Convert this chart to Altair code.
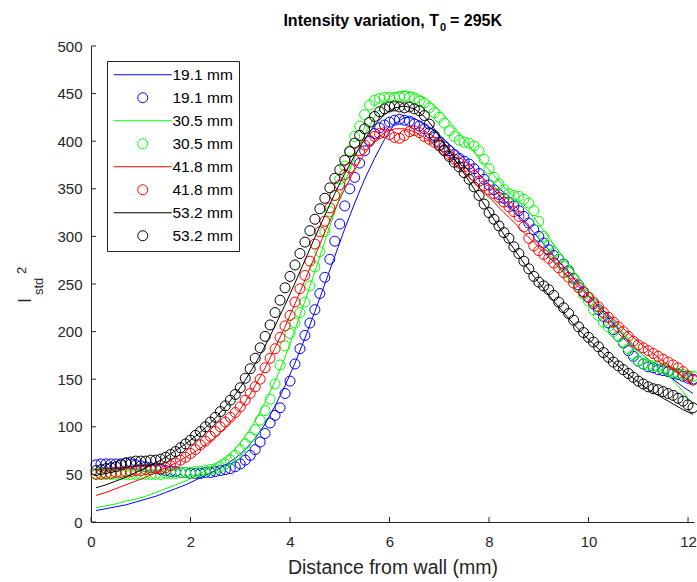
import altair as alt
import pandas as pd

# ---------------- data ----------------
series_labels = ["19.1 mm", "30.5 mm", "41.8 mm", "53.2 mm"]
series_colors = ["#0000ff", "#00ff00", "#ff0000", "#000000"]

x_data = [0.1, 0.2, 0.3, 0.4, 0.5, 0.6, 0.7, 0.8, 0.9, 1.0,
          1.1, 1.2, 1.3, 1.4, 1.5, 1.6, 1.7, 1.8, 1.9, 2.0,
          2.1, 2.2, 2.3, 2.4, 2.5, 2.6, 2.7, 2.8, 2.9, 3.0,
          3.1, 3.2, 3.3, 3.4, 3.5, 3.6, 3.7, 3.8, 3.9, 4.0,
          4.1, 4.2, 4.3, 4.4, 4.5, 4.6, 4.7, 4.8, 4.9, 5.0,
          5.1, 5.2, 5.3, 5.4, 5.5, 5.6, 5.7, 5.8, 5.9, 6.0,
          6.1, 6.2, 6.3, 6.4, 6.5, 6.6, 6.7, 6.8, 6.9, 7.0,
          7.1, 7.2, 7.3, 7.4, 7.5, 7.6, 7.7, 7.8, 7.9, 8.0,
          8.1, 8.2, 8.3, 8.4, 8.5, 8.6, 8.7, 8.8, 8.9, 9.0,
          9.1, 9.2, 9.3, 9.4, 9.5, 9.6, 9.7, 9.8, 9.9, 10.0,
          10.1, 10.2, 10.3, 10.4, 10.5, 10.6, 10.7, 10.8, 10.9, 11.0,
          11.1, 11.2, 11.3, 11.4, 11.5, 11.6, 11.7, 11.8, 11.9, 12.0, 12.1]

x_fit = [0.1, 0.3, 0.5, 0.7, 0.9, 1.1, 1.3, 1.5, 1.7, 1.9,
         2.1, 2.3, 2.5, 2.7, 2.9, 3.1, 3.3, 3.5, 3.7, 3.9,
         4.1, 4.3, 4.5, 4.7, 4.9, 5.1, 5.3, 5.5, 5.7, 5.9,
         6.1, 6.3, 6.5, 6.7, 6.9, 7.1, 7.3, 7.5, 7.7, 7.9,
         8.1, 8.3, 8.5, 8.7, 8.9, 9.1, 9.3, 9.5, 9.7, 9.9,
         10.1, 10.3, 10.5, 10.7, 10.9, 11.1, 11.3, 11.5, 11.7, 11.9, 12.1]

data_191 = [60, 61, 61, 61, 61, 61, 62, 61, 60, 59,
            58, 57, 56, 55, 54, 53, 53, 52, 52, 51,
            51, 51, 52, 52, 53, 54, 55, 56, 58, 61,
            65, 70, 76, 84, 93, 104, 112, 120, 135, 148,
            166, 182, 196, 209, 223, 240, 257, 276, 295, 313,
            332, 350, 362, 377, 390, 400, 408, 414, 417, 420,
            422, 423, 422, 421, 418, 416, 413, 409, 404, 399,
            394, 390, 386, 382, 379, 376, 371, 366, 360, 354,
            349, 344, 340, 336, 332, 327, 321, 314, 307, 300,
            293, 286, 280, 276, 271, 264, 256, 249, 242, 236,
            229, 223, 216, 209, 202, 195, 188, 180, 174, 169,
            166, 163, 162, 160, 159, 158, 156, 155, 153, 151, 150]

data_305 = [51, 51, 50, 50, 50, 50, 50, 50, 50, 50,
            50, 50, 50, 50, 51, 51, 51, 52, 52, 52,
            53, 53, 54, 55, 56, 58, 61, 65, 70, 76,
            82, 89, 97, 107, 117, 129, 145, 165, 185, 198,
            209, 220, 231, 248, 268, 284, 305, 326, 343, 360,
            374, 390, 405, 416, 428, 438, 443, 445, 446, 446,
            446, 447, 447, 446, 444, 442, 440, 435, 430, 425,
            419, 411, 405, 401, 399, 398, 395, 390, 381, 371,
            362, 355, 349, 345, 343, 342, 339, 335, 327, 316,
            300, 290, 283, 276, 269, 262, 255, 247, 239, 232,
            223, 217, 210, 205, 200, 195, 189, 182, 176, 169,
            166, 165, 164, 163, 161, 159, 157, 156, 155, 154, 153]

data_418 = [50, 50, 51, 51, 52, 52, 53, 53, 54, 54,
            55, 55, 56, 56, 57, 59, 62, 65, 68, 72,
            76, 81, 85, 90, 95, 100, 105, 110, 115, 121,
            128, 135, 142, 150, 162, 172, 182, 194, 206, 217,
            231, 245, 259, 274, 292, 305, 316, 330, 343, 354,
            365, 372, 380, 390, 396, 401, 405, 408, 409, 407,
            404, 403, 406, 410, 411, 409, 405, 402, 399, 395,
            391, 386, 381, 377, 373, 370, 364, 358, 353, 349,
            345, 341, 336, 331, 326, 321, 310, 298, 290, 285,
            281, 277, 272, 267, 262, 257, 251, 246, 241, 236,
            231, 226, 220, 215, 210, 205, 200, 195, 190, 186,
            183, 180, 177, 174, 171, 168, 165, 162, 158, 153, 149]

data_532 = [54, 55, 56, 57, 58, 60, 62, 63, 64, 64,
            64, 65, 65, 66, 68, 71, 74, 78, 82, 86,
            91, 95, 100, 105, 110, 116, 122, 128, 134, 141,
            151, 161, 172, 183, 195, 207, 220, 233, 246, 258,
            270, 282, 294, 306, 318, 329, 340, 351, 361, 370,
            380, 389, 398, 406, 413, 420, 426, 431, 434, 436,
            437, 436, 435, 436, 434, 432, 427, 418, 406, 396,
            390, 384, 378, 373, 367, 360, 352, 343, 334, 325,
            318, 311, 304, 298, 289, 282, 274, 266, 258, 252,
            248, 244, 238, 231, 225, 219, 212, 205, 199, 194,
            189, 184, 178, 173, 168, 164, 160, 156, 152, 148,
            145, 142, 140, 139, 137, 135, 133, 130, 127, 123, 120]

fit_191 = [12, 14, 16, 18, 21, 24, 27, 31, 35, 39,
           44, 49, 54, 60, 67, 76, 88, 103, 122, 143,
           167, 193, 221, 250, 279, 308, 335, 360, 382, 402,
           418, 425, 424, 418, 411, 402, 392, 382, 371, 360,
           349, 338, 327, 316, 304, 292, 280, 268, 256, 244,
           232, 220, 208, 196, 185, 175, 166, 158, 150, 142, 135]

fit_305 = [15, 17, 19, 22, 24, 27, 31, 35, 39, 43,
           48, 54, 61, 68, 77, 90, 106, 126, 148, 173,
           202, 232, 263, 295, 326, 356, 383, 406, 426, 441,
           450, 453, 451, 446, 438, 427, 415, 402, 389, 376,
           364, 352, 341, 331, 320, 306, 292, 278, 264, 250,
           236, 223, 211, 199, 186, 175, 166, 158, 149, 137, 123]

fit_418 = [28, 31, 35, 39, 43, 47, 52, 57, 62, 68,
           74, 81, 89, 99, 111, 126, 143, 162, 183, 205,
           229, 254, 279, 304, 328, 350, 370, 387, 400, 409,
           413, 413, 410, 404, 396, 387, 377, 367, 357, 346,
           336, 325, 315, 304, 294, 283, 273, 262, 252, 242,
           232, 222, 213, 203, 194, 185, 177, 169, 161, 153, 145]

fit_532 = [36, 39, 43, 47, 52, 57, 62, 68, 75, 82,
           90, 99, 109, 121, 134, 149, 166, 185, 206, 228,
           251, 275, 299, 322, 345, 366, 385, 402, 417, 428,
           435, 437, 434, 426, 413, 398, 382, 366, 350, 334,
           318, 302, 287, 272, 258, 245, 232, 220, 208, 197,
           187, 177, 168, 159, 151, 143, 136, 130, 124, 118, 113]

x_ticks = [0, 2, 4, 6, 8, 10, 12]
y_ticks = [0, 50, 100, 150, 200, 250, 300, 350, 400, 450, 500]
title_parts = ["Intensity variation, T", "0", "= 295K"]
ylabel_parts = ["I", "std", "2"]
xlabel = "Distance from wall (mm)"

# ---------------- layout ----------------
W, H = 603, 476
FONT = "Liberation Sans"
AX = "#262626"

data_series = [data_191, data_305, data_418, data_532]
fit_series = [fit_191, fit_305, fit_418, fit_532]

keys, key_colors, key_shapes = [], [], []
for lab, col in zip(series_labels, series_colors):
    keys += [lab + "|fit", lab + "|data"]
    key_colors += [col, col]
    key_shapes += ["M-5.8,0H5.8", "circle"]

xscale = alt.Scale(domain=[0, 12.12], nice=False, zero=False)
yscale = alt.Scale(domain=[0, 500], nice=False, zero=False)

xaxis = alt.Axis(values=x_ticks, ticks=False, grid=False, domainColor=AX, domainWidth=1,
                 labelFont=FONT, labelFontSize=15, labelColor=AX, labelPadding=12,
                 labelFlush=False, labelOverlap=False,
                 title=xlabel, titleFont=FONT, titleFontSize=19.5, titleFontWeight="normal",
                 titleColor=AX, titlePadding=9)
yaxis = alt.Axis(values=y_ticks, ticks=False, grid=False, domainColor=AX, domainWidth=1,
                 labelFont=FONT, labelFontSize=15, labelColor=AX, labelPadding=9,
                 labelFlush=False, labelOverlap=False, title=None)

legend = alt.Legend(title=None, orient="none", legendX=16, legendY=15, padding=6,
                    rowPadding=6, symbolOffset=22, labelOffset=22, symbolSize=100,
                    symbolStrokeWidth=1, labelFont=FONT, labelFontSize=15.5, labelColor="#000000",
                    strokeColor=AX, fillColor="#ffffff",
                    labelExpr="split(datum.label, '|')[0]")

color_enc = alt.Color("key:N", scale=alt.Scale(domain=keys, range=key_colors), legend=legend)
shape_enc = alt.Shape("key:N", scale=alt.Scale(domain=keys, range=key_shapes), legend=legend)

layers = []
for lab, ys_d, ys_f in zip(series_labels, data_series, fit_series):
    df_f = pd.DataFrame({"x": x_fit, "y": ys_f, "key": lab + "|fit"})
    df_d = pd.DataFrame({"x": x_data, "y": ys_d, "key": lab + "|data"})
    layers.append(
        alt.Chart(df_f).mark_line(strokeWidth=1).encode(
            x=alt.X("x:Q", scale=xscale, axis=xaxis),
            y=alt.Y("y:Q", scale=yscale, axis=yaxis),
            color=color_enc,
        )
    )
    layers.append(
        alt.Chart(df_d).mark_point(filled=False, size=100, strokeWidth=1, opacity=1).encode(
            x=alt.X("x:Q", scale=xscale, axis=xaxis),
            y=alt.Y("y:Q", scale=yscale, axis=yaxis),
            color=color_enc,
            shape=shape_enc,
        )
    )

# inward tick marks
xt = alt.Chart(pd.DataFrame({"t": x_ticks})).mark_rule(color=AX, strokeWidth=1).encode(
    x=alt.X("t:Q", scale=xscale, axis=xaxis), y=alt.value(H), y2=alt.value(H - 5))
yt = alt.Chart(pd.DataFrame({"t": y_ticks})).mark_rule(color=AX, strokeWidth=1).encode(
    y=alt.Y("t:Q", scale=yscale, axis=yaxis), x=alt.value(0), x2=alt.value(5))
layers += [xt, yt]

# title and y-label pieces (sub/superscripts)
def txt(s, x, y, size, weight="normal", align="left", angle=0, color="#000000"):
    kw = dict(align=align, baseline="alphabetic", font=FONT, fontSize=size,
              fontWeight=weight, color=color)
    if angle:
        kw["angle"] = angle
    return alt.Chart(pd.DataFrame({"s": [s]})).mark_text(**kw).encode(
        text="s:N", x=alt.value(x), y=alt.value(y))

layers += [
    txt(title_parts[0], 348, -20, 16, "bold", "right"),
    txt(title_parts[1], 349, -15, 11, "bold", "left"),
    txt(title_parts[2], 359, -20, 16, "bold", "left"),
    txt(ylabel_parts[0], -60, 257, 18, "normal", "left", 270, AX),
    txt(ylabel_parts[1], -48, 249, 13, "normal", "left", 270, AX),
    txt(ylabel_parts[2], -65, 228, 13, "normal", "left", 270, AX),
]

chart = alt.layer(*layers).properties(
    width=W, height=H,
    autosize=alt.AutoSizeParams(type="none"),
    padding={"left": 91, "top": 46, "right": 3, "bottom": 60},
    background="#ffffff",
).configure_view(stroke=None)

chart.save("out.html", embed_options={"renderer": "svg", "actions": False})
